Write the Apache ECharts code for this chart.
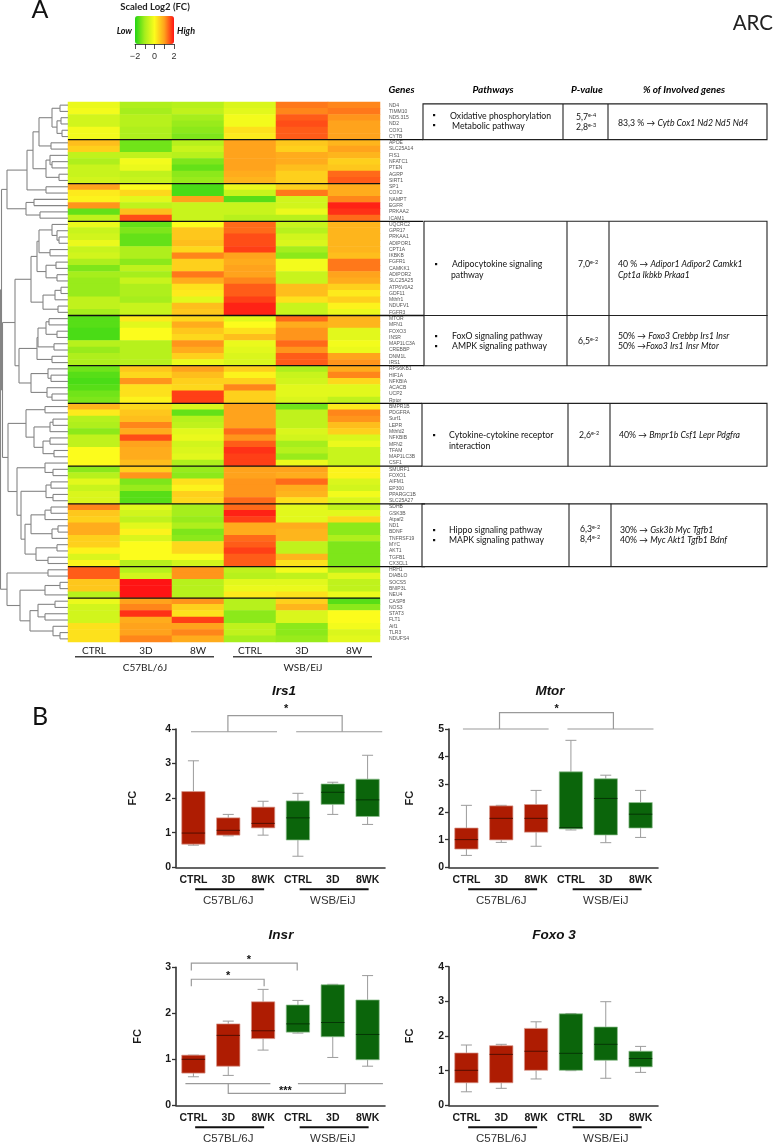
<!DOCTYPE html>
<html><head><meta charset="utf-8">
<style>html,body{margin:0;padding:0;background:#fff}#main{width:774px;height:1147px;filter:blur(0.35px)}</style>
<script src="https://cdn.jsdelivr.net/npm/echarts@6/dist/echarts.min.js"></script>
</head><body><div id="main"></div>
<script>
const heatColumns = ['CTRL','3D','8W','CTRL ','3D ','8W '];
const genes = ['ND4','TIMM10','ND5.315','ND2','COX1','CYTB','APOE','SLC25A14','FIS1','NFATC1','PTEN','AGRP','SIRT1','SP1','COX2','NAMPT','EGFR','PRKAA2','ICAM1','UQCRC2','GPR17','PRKAA1','ADIPOR1','CPT1A','IKBKB','FGFR1','CAMKK1','ADIPOR2','SLC25A25','ATP6V0A2','GDF11','Mthfr1','NDUFV1','FGFR3','MTOR','MFN1','FOXO3','INSR','MAP1LC3A','CREBBP','DNM1L','IRS1','RPS6KB1','HIF1A','NFKBIA','ACACB','UCP2','Rptor','BMPR1B','PDGFRA','Surf1','LEPR','Mthfd2','NFKBIB','MFN2','TFAM','MAP1LC3B','CSF1','SMURF1','FOXO1','AIFM1','EP300','PPARGC1B','SLC25A27','SDHB','GSK3B','Atpaf2','ND1','BDNF','TNFRSF19','MYC','AKT1','TGFB1','CX3CL1','HRH1','DIABLO','SOCS5','BNIP3L','NEU4','CASP8','NOS3','STAT3','FLT1','Aif1','TLR3','NDUFS4'];
const heatValues = [
[-0.2,-0.9,-0.8,-0.4,1.3,1.2],[-0.1,-1.0,-0.7,-0.3,1.2,1.3],[-0.5,-0.8,-1.0,-0.1,1.5,1.1],[-0.5,-0.8,-1.1,-0.1,1.6,1.0],[-0.1,-0.9,-1.2,0.3,1.5,1.0],[-0.1,-0.9,-1.3,0.2,1.5,1.0],
[0.7,-1.4,-0.8,1.0,0.6,0.8],[0.5,-1.4,-0.6,1.0,0.5,1.0],[-0.7,-0.7,-0.8,1.0,0.9,0.8],[-0.9,-0.1,-1.3,1.0,0.9,0.5],[-0.6,-0.2,-1.5,1.0,0.7,0.6],[-0.6,-0.7,-1.2,0.9,0.5,1.4],[-0.5,-0.6,-1.1,0.8,0.5,1.5],
[1.0,0.0,-1.7,-0.2,0.5,0.9],[0.2,0.4,-1.7,-0.6,1.3,0.9],[0.1,-0.3,1.0,-1.6,-0.5,1.2],[1.1,-0.7,-0.6,-0.6,-0.5,1.9],[-1.5,0.7,-0.6,-0.6,-0.2,1.8],[-0.7,1.6,-0.6,-0.8,-0.8,1.4],
[-0.2,-1.5,0.0,1.4,-0.6,0.8],[-0.6,-1.3,0.6,1.4,-0.8,0.8],[-0.5,-1.5,0.6,1.6,-0.5,0.8],[-0.2,-1.5,0.7,1.6,-0.4,0.8],[-0.6,-0.9,0.4,1.7,-1.0,0.8],[-0.5,-0.9,1.2,1.0,-1.2,0.7],[-0.9,-1.2,0.5,0.9,-0.1,1.3],[-1.3,-0.7,0.5,1.0,-0.1,1.3],[-1.0,-1.0,1.3,1.0,-0.6,1.0],[-1.1,-0.6,0.9,1.2,-0.6,0.9],[-1.1,-0.9,0.3,1.5,0.7,0.5],[-1.1,-0.9,0.2,1.5,0.7,0.2],[-0.7,-1.0,-0.3,1.7,0.3,0.5],[-0.7,-0.6,0.7,1.9,-0.6,0.1],[-1.0,-0.6,0.6,1.9,-0.6,-0.2],
[-1.6,0.2,0.4,-0.3,1.4,0.8],[-1.6,-0.3,0.9,0.0,0.9,0.8],[-1.7,0.0,0.6,0.3,1.1,-0.3],[-1.7,0.0,0.4,0.7,1.1,-0.3],[-0.8,-0.8,1.1,-0.2,1.4,-0.1],[-1.1,-0.8,0.9,-0.3,1.1,-0.2],[-0.9,-0.8,0.5,-0.4,1.5,1.0],[-0.9,-0.8,-0.2,-0.4,1.5,1.1],
[-1.4,0.6,1.0,0.5,-0.9,0.9],[-1.6,0.4,0.7,0.1,-0.6,1.2],[-1.7,1.1,0.5,0.5,-0.5,0.4],[-1.6,0.3,0.4,1.2,-0.3,-0.3],[-1.4,0.3,1.7,0.5,-0.3,-0.3],[-1.3,0.1,1.7,0.5,-0.4,-0.7],
[0.8,0.4,-0.4,1.0,-1.4,0.2],[0.2,0.6,-1.5,1.0,-0.7,1.2],[-0.8,0.7,-0.8,1.0,-0.7,1.1],[-0.9,1.2,-0.7,1.0,-0.7,0.7],[-1.2,0.9,-0.3,1.4,-0.4,0.5],[-0.7,1.6,-0.2,1.1,-0.5,-0.4],[-0.7,1.0,-0.5,1.5,-1.0,-0.2],[0.0,0.9,-0.4,1.8,-0.8,-0.6],[0.0,0.9,-0.3,1.7,-1.1,-0.6],[0.0,0.7,-0.9,1.7,-0.2,-0.6],
[-1.2,0.5,-1.1,1.0,1.0,0.1],[-0.8,1.1,-1.2,1.0,0.9,0.1],[-0.3,-1.3,0.3,1.1,1.4,-0.4],[-0.6,-1.1,0.1,1.1,0.9,-0.5],[-0.4,-1.6,0.5,1.1,0.8,-0.1],[-0.4,-1.6,0.4,1.4,0.3,-0.4],
[1.2,-0.3,-1.0,1.4,-0.3,-0.7],[0.6,-0.5,-1.0,1.9,-0.3,-0.3],[0.5,-0.7,-1.1,1.7,-0.3,0.4],[0.9,-0.3,-0.9,0.9,0.9,-1.2],[0.9,0.1,-1.3,0.9,0.8,-1.2],[0.5,-0.4,-1.2,1.4,0.8,-0.9],[0.5,0.0,0.4,1.5,-0.7,-1.3],[0.1,0.0,0.4,1.7,-0.7,-1.3],[-0.4,0.0,0.0,1.5,0.8,-1.3],[0.1,-0.8,-0.5,1.5,0.3,-1.3],
[1.5,-0.8,1.1,-0.7,-0.1,-0.9],[1.5,-0.5,1.1,-0.8,-0.7,-0.3],[0.6,2.0,-0.8,-0.3,-0.3,-0.7],[0.6,2.0,-0.8,-0.2,-0.2,-0.7],[-0.8,2.0,-0.8,0.2,0.3,-0.2],
[-0.2,1.0,1.1,-0.8,0.5,-1.6],[-0.5,1.2,0.5,-0.8,0.8,-1.2],[-0.5,1.8,0.3,-1.2,-0.4,0.0],[-0.5,0.9,1.7,-1.2,-0.4,0.0],[0.3,1.0,1.0,-0.7,-1.2,-0.1],[0.3,1.0,1.2,-0.7,-1.2,-0.4],[0.3,1.2,0.9,-1.0,-1.1,-0.3]
];
// dendrogram: [mergeHeight, childA, childB]; a number is a row index
const dendroTop = [61,[41,[35,[29,[16,[8,0,1],[11,[7,2,3],[6,4,5]]],[17,6,7]],[22,[18,8,[16,9,10]],[9,11,12]]],[22,13,14]],[42,[34,15,16],[28,17,18]]];
const dendroA1 = [37,[31,[29,[16,19,[11,20,[9,21,22]]],[18,23,24]],[22,[12,25,26],[11,27,28]]],[25,[13,[7,29,30],31],[10,32,33]]];
const dendroA2 = [49,[31,[30,[22,[19,34,35],[11,36,37]],[14,38,39]],[16,40,41]],[37,[20,42,[17,43,44]],[21,45,[16,46,47]]]];
const dendroB = [60,[42,[23,48,49],[34,[18,[15,50,51],52],[25,[18,53,54],[14,55,56]]]],[51,[23,57,[15,58,59]],[47,[22,[17,60,61],[15,62,63]],[43,[37,[23,[17,64,65],66],[16,[10,67,68],69]],[32,[11,70,71],[20,72,73]]]]]];
const dendroBottom = [61,[20,74,75],[48,[23,[8,76,77],78],[38,[30,[13,79,80],[23,81,82]],[15,83,[8,84,85]]]]];
const dendrogram = [67.5,[66.5,dendroTop,[65.5,[53,dendroA1,dendroA2],dendroB]],dendroBottom];
// row boundary (rows above), right end of the line
const separators = [[6,423],[13,380],[19,423],[34,424],[42,424],[48,422],[58,422],[64,425],[74,425],[79,380]];
// first row, last row, left, divider, divider, right
const tableBoxes = [[0.3,6,423,563,608,767],[19,34,424,567,609,767],[34,42,424,567,609,767],[48,58,422,568,610,767],[64,74,422,569,611,767]];

const boxCategories = ['CTRL','3D','8WK','CTRL','3D','8WK'];
// each row: lower whisker, Q1, median, Q3, upper whisker
const irs1Values = [[0.64,0.67,0.99,2.19,3.08],[0.91,0.93,1.07,1.43,1.53],[0.93,1.14,1.27,1.74,1.91],[0.32,0.79,1.43,1.92,2.14],[1.53,1.82,2.17,2.41,2.46],[1.24,1.47,1.95,2.55,3.24]];
const mtorValues = [[0.43,0.66,1.0,1.42,2.24],[0.90,0.99,1.77,2.22,2.24],[0.76,1.27,1.77,2.27,2.78],[1.35,1.39,1.43,3.45,4.59],[0.89,1.17,2.49,3.2,3.33],[1.08,1.42,1.92,2.34,2.78]];
const insrValues = [[0.62,0.70,1.0,1.09,1.09],[0.65,0.85,1.52,1.77,1.83],[1.2,1.45,1.62,2.25,2.52],[1.57,1.59,1.77,2.18,2.28],[1.04,1.49,1.8,2.62,2.63],[0.85,0.99,1.54,2.29,2.82]];
const foxo3Values = [[0.39,0.65,1.01,1.51,1.74],[0.49,0.65,1.47,1.72,1.76],[0.76,1.01,1.56,2.22,2.41],[1.0,1.01,1.5,2.64,2.65],[0.78,1.3,1.76,2.26,2.99],[0.95,1.11,1.35,1.56,1.7]];
const strainLabels = ['C57BL/6J','WSB/EiJ'];

const panels = [
 {title:'Irs1',tx:284,ty:691,left:176,top:729,height:138.3,max:4,vals:irs1Values,gap:38,
  lines:[[[-.07,3.92],[2.4,3.92]],[[2.95,3.92],[5.42,3.92]],[[.99,3.92],[.99,4.385],[4.27,4.385],[4.27,3.92]]],stars:[[2.66,4.57,'*']]},
 {title:'Mtor',tx:550,ty:691,left:449,top:729,height:138.3,max:5,vals:mtorValues,gap:34,
  lines:[[[-.1,5],[2.36,5]],[[2.9,5],[5.37,5]],[[.95,5],[.95,5.59],[4.22,5.59],[4.22,5]]],stars:[[2.59,5.73,'*']]},
 {title:'Insr',tx:281,ty:935,left:176,top:967.3,height:138,max:3,vals:insrValues,gap:33,
  lines:[[[-.06,2.93],[-.06,3.09],[2.98,3.09],[2.98,2.93]],[[-.06,2.59],[-.06,2.74],[2.03,2.74],[2.03,2.59]],[[-.23,.47],[2.21,.47]],[[3,.47],[5.44,.47]],[[1,.47],[1,.26],[4.36,.26],[4.36,.47]]],stars:[[1.59,3.17,'*'],[1,2.82,'*'],[2.64,.31,'***']]},
 {title:'Foxo 3',tx:554,ty:935,left:449,top:966.7,height:138.6,max:4,vals:foxo3Values,gap:34,lines:[],stars:[]}
];

function collectSegments(node, segs){
  if (typeof node === 'number') return {y:node,h:0};
  const a = collectSegments(node[1],segs), b = collectSegments(node[2],segs), h = node[0];
  segs.push([a.h,a.y,h,a.y],[b.h,b.y,h,b.y],[h,a.y,h,b.y]);
  return {y:(a.y+b.y)/2,h:h};
}
const dendroSegments = []; collectSegments(dendrogram,dendroSegments);
const heatData = [];
heatValues.forEach((row,r)=>row.forEach((v,c)=>heatData.push([c,r,v])));

const grids=[], xAxes=[], yAxes=[], series=[], titles=[];
// 0 heatmap grid
grids.push({left:68,top:102,width:312,height:540});
xAxes.push({type:'category',gridIndex:0,data:heatColumns,position:'bottom',axisLine:{show:false},axisTick:{show:false},
  axisLabel:{margin:4,fontFamily:'Lato',fontSize:10,color:'#222',formatter:v=>v.trim()}});
yAxes.push({type:'category',gridIndex:0,data:genes,inverse:true,position:'right',axisLine:{show:false},axisTick:{show:false},
  axisLabel:{interval:0,margin:9,fontFamily:'Liberation Sans',fontSize:5,color:'#555'}});
// 1 overlay on the same rows, x counted in page pixels
grids.push({left:0,top:102,width:774,height:540});
xAxes.push({type:'value',gridIndex:1,min:0,max:774,show:false,splitLine:{show:false}});
yAxes.push({type:'value',gridIndex:1,min:-0.5,max:85.5,inverse:true,show:false,splitLine:{show:false}});
// 2 colour key axis
grids.push({left:135,top:16,width:39,height:28});
xAxes.push({type:'value',gridIndex:2,min:-2,max:2,interval:1,splitLine:{show:false},axisLine:{onZero:false,lineStyle:{color:'#222',width:0.8}},
  axisTick:{length:5,lineStyle:{color:'#222',width:0.8}},axisLabel:{margin:8,fontFamily:'Liberation Sans',fontSize:9,color:'#333',showMinLabel:true,showMaxLabel:true,
  formatter:v=>v%2===0?(v<0?'\u2212'+(-v):String(v)):''}});
yAxes.push({type:'value',gridIndex:2,show:false,splitLine:{show:false}});

series.push({type:'heatmap',xAxisIndex:0,yAxisIndex:0,data:heatData,progressive:0,itemStyle:{borderWidth:0},emphasis:{disabled:true},z:1});
series.push({type:'custom',xAxisIndex:1,yAxisIndex:1,data:dendroSegments,z:5,silent:true,
  encode:{x:[0,2],y:[1,3]},
  renderItem:(p,api)=>{
    const a=api.coord([68-api.value(0),api.value(1)]), b=api.coord([68-api.value(2),api.value(3)]);
    return {type:'line',shape:{x1:a[0],y1:a[1],x2:b[0],y2:b[1]},style:{stroke:'#858585',lineWidth:1.1}};
  }});
series.push({type:'custom',xAxisIndex:1,yAxisIndex:1,data:separators,z:6,silent:true,
  encode:{x:1,y:0},
  renderItem:(p,api)=>{
    const a=api.coord([68,api.value(0)-0.5]), b=api.coord([api.value(1),api.value(0)-0.5]);
    return {type:'line',shape:{x1:a[0],y1:a[1],x2:b[0],y2:b[1]},style:{stroke:'#111',lineWidth:1.3}};
  }});
series.push({type:'custom',xAxisIndex:1,yAxisIndex:1,data:tableBoxes,z:6,silent:true,
  encode:{x:[2,5],y:[0,1]},
  renderItem:(p,api)=>{
    const top=api.coord([api.value(2),api.value(0)-0.5]), bot=api.coord([api.value(5),api.value(1)-0.5]);
    const d1=api.coord([api.value(3),0])[0], d2=api.coord([api.value(4),0])[0];
    const st={stroke:'#222',lineWidth:1.1,fill:null};
    return {type:'group',children:[
      {type:'rect',shape:{x:top[0],y:top[1],width:bot[0]-top[0],height:bot[1]-top[1]},style:st},
      {type:'line',shape:{x1:d1,y1:top[1],x2:d1,y2:bot[1]},style:st},
      {type:'line',shape:{x1:d2,y1:top[1],x2:d2,y2:bot[1]},style:st}]};
  }});
series.push({type:'custom',xAxisIndex:2,yAxisIndex:2,data:[],silent:true});

panels.forEach(pn=>{
  const gi=grids.length;
  grids.push({left:pn.left,top:pn.top,width:209,height:pn.height});
  // category axis for ticks and labels
  const xCat=xAxes.length;
  xAxes.push({type:'category',gridIndex:gi,data:boxCategories.map((c,i)=>({value:c+'#'+i})),axisLine:{onZero:false,lineStyle:{color:'#333',width:1.6}},
    axisTick:{alignWithLabel:true,length:4,lineStyle:{color:'#333',width:1.3}},
    axisLabel:{interval:0,margin:7,fontFamily:'Liberation Sans',fontWeight:'bold',fontSize:10.5,color:'#1a1a1a',formatter:v=>v.split('#')[0]}});
  // fractional category positions for annotations
  const xVal=xAxes.length;
  xAxes.push({type:'value',gridIndex:gi,min:-0.5,max:5.5,show:false,splitLine:{show:false},axisLine:{onZero:false}});
  const yi=yAxes.length;
  yAxes.push({type:'value',gridIndex:gi,min:0,max:pn.max,interval:1,splitLine:{show:false},
    axisLine:{show:true,onZero:false,lineStyle:{color:'#333',width:1.6}},axisTick:{show:true,length:4,lineStyle:{color:'#333',width:1.3}},
    axisLabel:{margin:5,fontFamily:'Liberation Sans',fontWeight:'bold',fontSize:10.5,color:'#1a1a1a'},
    name:'FC',nameLocation:'middle',nameGap:pn.gap,nameTextStyle:{fontFamily:'Liberation Sans',fontWeight:'bold',fontSize:11,color:'#1a1a1a'}});
  series.push({type:'custom',xAxisIndex:xCat,yAxisIndex:yi,silent:true,z:3,
    data:pn.vals.map((v,i)=>[i].concat(v)),encode:{x:0,y:[1,2,3,4,5]},
    renderItem:(p,api)=>{
      const i=api.value(0), red=i<3, c=api.coord([i,0])[0], w=api.size([1,0])[0]*0.67/2, cap=5.5;
      const Y=k=>api.coord([i,api.value(k)])[1];
      const wh={stroke:'#9c9c9c',lineWidth:1};
      return {type:'group',children:[
        {type:'line',shape:{x1:c,y1:Y(1),x2:c,y2:Y(2)},style:wh},
        {type:'line',shape:{x1:c,y1:Y(4),x2:c,y2:Y(5)},style:wh},
        {type:'line',shape:{x1:c-cap,y1:Y(1),x2:c+cap,y2:Y(1)},style:wh},
        {type:'line',shape:{x1:c-cap,y1:Y(5),x2:c+cap,y2:Y(5)},style:wh},
        {type:'rect',shape:{x:c-w,y:Y(4),width:w*2,height:Y(2)-Y(4)},style:{fill:red?'#ae1c02':'#0b650b',stroke:red?'#d99a8c':'#8fc08f',lineWidth:0.7}},
        {type:'line',shape:{x1:c-w,y1:Y(3),x2:c+w,y2:Y(3)},style:{stroke:red?'#4a0c00':'#043004',lineWidth:0.9}}
      ]};
    }});
  // brackets, significance stars, strain bars and names
  series.push({type:'custom',xAxisIndex:xVal,yAxisIndex:yi,silent:true,z:4,data:[[0,0]],
    renderItem:(p,api)=>{
      const kids=[];
      pn.lines.forEach(l=>kids.push({type:'polyline',shape:{points:l.map(q=>api.coord(q))},style:{stroke:'#9a9a9a',lineWidth:1.2,fill:null}}));
      pn.stars.forEach(s=>{const q=api.coord([s[0],s[1]]);kids.push({type:'text',x:q[0],y:q[1],style:{text:s[2],align:'center',verticalAlign:'middle',font:'bold 11px "Liberation Sans"',fill:'#111'}});});
      strainLabels.forEach((t,k)=>{
        const a=api.coord([k*3+0.05,0]), b=api.coord([k*3+2.03,0]), m=api.coord([k*3+1,0]);
        kids.push({type:'line',shape:{x1:a[0],y1:a[1]+22,x2:b[0],y2:b[1]+22},style:{stroke:'#111',lineWidth:2}});
        kids.push({type:'text',x:m[0],y:m[1]+33.5,style:{text:t,align:'center',verticalAlign:'middle',font:'11.5px "Liberation Sans"',fill:'#333'}});
      });
      return {type:'group',children:kids};
    }});
  titles.push({text:pn.title,left:pn.tx,top:pn.ty,textAlign:'center',textVerticalAlign:'middle',padding:0,
    textStyle:{fontFamily:'Liberation Sans',fontWeight:'bold',fontStyle:'italic',fontSize:13.5,color:'#111'}});
});

const tFont='Lato';
const rich={i:{fontStyle:'italic',fontFamily:tFont,fontSize:8.7,color:'#111'},s:{fontFamily:tFont,fontSize:5.5,color:'#222',verticalAlign:'top',padding:[0,0,3,0]}};
function txt(x,y,text,o){o=o||{};return {type:'text',x:x,y:y,silent:true,z:20,style:Object.assign({text:text,fontFamily:tFont,fontSize:8.7,fill:'#111',align:'left',verticalAlign:'middle',rich:rich},o)};}
const head={fontWeight:'bold',fontStyle:'italic',fontSize:10,fill:'#000',align:'center'};
const strainHead=[[145,strainLabels[0]],[303,strainLabels[1]]];
const graphics=[
 txt(40,10,'A',{fontSize:25,align:'center',fontFamily:'Lato',fill:'#111'}),
 txt(773,23,'ARC',{fontSize:20.5,align:'right',fill:'#222'}),
 txt(40,717,'B',{fontSize:25,align:'center',fill:'#111'}),
 txt(155,7,'Scaled Log2 (FC)',{fontSize:9.5,fontWeight:'bold',align:'center',fill:'#222'}),
 txt(132,31,'Low',{fontSize:9,fontWeight:'bold',fontStyle:'italic',align:'right',fill:'#111'}),
 txt(177,31,'High',{fontSize:9,fontWeight:'bold',fontStyle:'italic',fill:'#111'}),
 txt(401.5,90,'Genes',head),txt(493,90,'Pathways',head),txt(587,90,'P-value',head),txt(684,90,'% of Involved genes',head),
 txt(450,116,'Oxidative phosphorylation'),txt(452,126,'Metabolic pathway'),
 txt(586,117,'5,7{s|e-4}',{align:'center'}),txt(586,127,'2,8{s|e-3}',{align:'center'}),
 txt(618,123,'83,3 % \u2192 {i|Cytb Cox1 Nd2 Nd5 Nd4}'),
 txt(452,264,'Adipocytokine signaling'),txt(451,275,'pathway'),
 txt(588,264,'7,0{s|e-2}',{align:'center'}),
 txt(618,264,'40 % \u2192 {i|Adipor1 Adipor2 Camkk1}'),txt(618,275,'{i|Cpt1a Ikbkb Prkaa1}'),
 txt(452,336,'FoxO signaling pathway'),txt(452,346,'AMPK signaling pathway'),
 txt(588,341,'6,5{s|e-2}',{align:'center'}),
 txt(618,336,'50% \u2192 {i|Foxo3 Crebbp Irs1 Insr}'),txt(618,346,'50% \u2192{i|Foxo3 Irs1 Insr Mtor}'),
 txt(449,435,'Cytokine-cytokine receptor'),txt(449,446,'interaction'),
 txt(589,435,'2,6{s|e-2}',{align:'center'}),
 txt(619,435,'40% \u2192 {i|Bmpr1b Csf1 Lepr Pdgfra}'),
 txt(449,530,'Hippo signaling pathway'),txt(449,540,'MAPK signaling pathway'),
 txt(590,529,'6,3{s|e-2}',{align:'center'}),txt(590,539,'8,4{s|e-2}',{align:'center'}),
 txt(620,530,'30% \u2192 {i|Gsk3b Myc Tgfb1}'),txt(620,540,'40% \u2192 {i|Myc Akt1 Tgfb1 Bdnf}'),
 ...[[434,115],[434,125],[436,264],[436,336],[436,346],[434,435],[434,530],[434,540]].map(b=>({type:'rect',silent:true,z:20,shape:{x:b[0]-1,y:b[1]-1,width:2.2,height:2.2},style:{fill:'#111'}})),
 ...[[75,214],[233,372]].map(b=>({type:'line',silent:true,z:20,shape:{x1:b[0],y1:656.7,x2:b[1],y2:656.7},style:{stroke:'#444',lineWidth:1.4}})),
 ...strainHead.map(s=>txt(s[0],667.5,s[1],{fontSize:10,align:'center',fill:'#222'}))
];

const chart=echarts.init(document.getElementById('main'),null,{renderer:'canvas'});
chart.setOption({
  animation:false,backgroundColor:'#fff',tooltip:{show:false},
  title:titles,grid:grids,xAxis:xAxes,yAxis:yAxes,series:series,graphic:{elements:graphics},
  visualMap:{type:'continuous',seriesIndex:0,min:-2,max:2,orient:'horizontal',left:135,top:16,itemWidth:28,itemHeight:39,padding:0,calculable:false,hoverLink:false,showLabel:false,
    inRange:{color:['#22d414','#a6ee1c','#fcfc1c','#ffa31c','#ff1414']}}
});
</script></body></html>
